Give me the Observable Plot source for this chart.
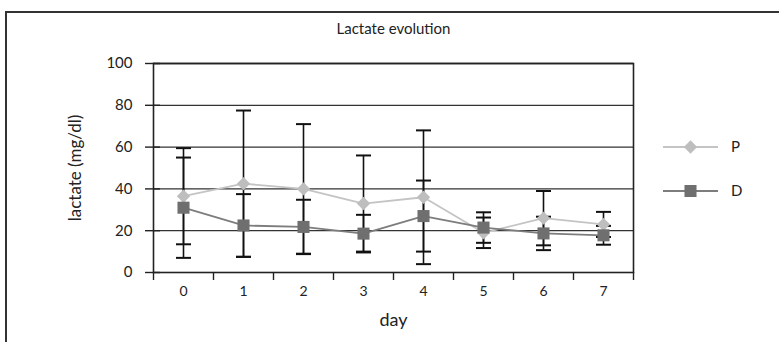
<!DOCTYPE html>
<html>
<head>
<meta charset="utf-8">
<script src="https://cdn.jsdelivr.net/npm/d3@7"></script>
<script src="https://cdn.jsdelivr.net/npm/@observablehq/plot@0.6"></script>
<style>
  html, body { margin: 0; padding: 0; background: #fff; }
  #wrap { position: relative; width: 779px; height: 342px; overflow: hidden; font-family: Lato, "Open Sans", sans-serif; }
  #box { position: absolute; left: 5px; top: 11px; width: 900px; height: 500px; border-top: 2px solid #333; border-left: 2px solid #333; }
  #chart { position: absolute; left: 0; top: 0; }
  #legend { position: absolute; left: 655px; top: 130px; }
</style>
</head>
<body>
<div id="wrap">
  <div id="box"></div>
  <div id="chart"></div>
  <div id="legend"></div>
</div>
<script>
const title = "Lactate evolution";
const xLabel = "day";
const yLabel = "lactate (mg/dl)";
const days = [0, 1, 2, 3, 4, 5, 6, 7];
const yTicks = [0, 20, 40, 60, 80, 100];
const seriesNames = ["P", "D"];
const pMean = [36.5, 42.5, 40, 33, 36, 19, 26, 23];
const pSd   = [23, 35, 31, 23, 32, 7.3, 13, 6];
const dMean = [31, 22.5, 21.8, 18.6, 27, 21.5, 18.7, 17.8];
const dSd   = [24, 15, 13, 9, 17, 7.3, 8, 4.5];

const colors = { P: "#bebebe", D: "#6f6f6f" };
const lineColors = { P: "#c4c4c4", D: "#7d7d7d" };

const rows = [];
days.forEach((d, i) => {
  rows.push({ day: d, series: "P", mean: pMean[i], lo: pMean[i] - pSd[i], hi: pMean[i] + pSd[i] });
  rows.push({ day: d, series: "D", mean: dMean[i], lo: dMean[i] - dSd[i], hi: dMean[i] + dSd[i] });
});
const pRows = rows.filter(r => r.series === "P");
const dRows = rows.filter(r => r.series === "D");

const capSymbol = {
  draw(ctx, size) {
    const w = 7.5;
    ctx.moveTo(-w, 0);
    ctx.lineTo(w, 0);
  }
};

const boundaries = d3.range(days[0] - 0.5, days[days.length - 1] + 1, 1);
const font = 'Lato, "Open Sans", sans-serif';

const chart = Plot.plot({
  width: 779,
  height: 342,
  marginLeft: 153,
  marginRight: 146,
  marginTop: 63,
  marginBottom: 70,
  style: { fontFamily: font, fontSize: "14px", color: "#222", background: "transparent" },
  x: { type: "linear", domain: [days[0] - 0.5, days[days.length - 1] + 0.5] },
  y: { domain: [0, 100] },
  marks: [
    Plot.ruleY(yTicks.filter(t => t > 0), { y: d => d, stroke: "#333", strokeWidth: 1.3 }),
    Plot.frame({ stroke: "#222", strokeWidth: 1.6 }),
    Plot.axisY({ ticks: yTicks, tickSize: 15, dx: 7, tickFormat: () => "", stroke: "#222", strokeWidth: 1.4, label: null }),
    Plot.axisY({ ticks: yTicks, tickSize: 0, tickPadding: 21, fontSize: 15, fill: "#222", label: null }),
    Plot.axisX({ ticks: boundaries, tickSize: 8, tickFormat: () => "", stroke: "#222", strokeWidth: 1.4, label: null }),
    Plot.axisX({ ticks: days, tickSize: 0, tickPadding: 14, fontSize: 14, fill: "#222", label: null }),
    Plot.text([xLabel], { frameAnchor: "bottom", dy: 53, fontSize: 18, fill: "#222" }),
    Plot.text([yLabel], { frameAnchor: "left", textAnchor: "middle", dx: -78, rotate: -90, fontSize: 17, fill: "#222" }),
    Plot.text([title], { frameAnchor: "top", dy: -40, fontSize: 15, fill: "#222" }),
    Plot.ruleX(rows, { x: "day", y1: "lo", y2: "hi", stroke: "#111", strokeWidth: 1.6 }),
    Plot.dot(rows, { x: "day", y: "lo", symbol: capSymbol, stroke: "#111", strokeWidth: 2, fill: "none" }),
    Plot.dot(rows, { x: "day", y: "hi", symbol: capSymbol, stroke: "#111", strokeWidth: 2, fill: "none" }),
    Plot.line(pRows, { x: "day", y: "mean", stroke: lineColors.P, strokeWidth: 1.8 }),
    Plot.line(dRows, { x: "day", y: "mean", stroke: lineColors.D, strokeWidth: 1.8 }),
    Plot.dot(pRows, { x: "day", y: "mean", symbol: "diamond2", r: 6, fill: colors.P, stroke: "none" }),
    Plot.dot(dRows, { x: "day", y: "mean", symbol: "square", r: 6.8, fill: colors.D, stroke: "none" })
  ]
});
document.getElementById("chart").appendChild(chart);

// Legend
const lg = d3.select("#legend").append("svg").attr("width", 110).attr("height", 80)
  .style("font-family", font);
seriesNames.forEach((name, i) => {
  const g = lg.append("g").attr("transform", `translate(0, ${17 + i * 44})`);
  g.append("line").attr("x1", 8).attr("x2", 63).attr("y1", 0).attr("y2", 0)
    .attr("stroke", lineColors[name]).attr("stroke-width", 1.8);
  const sym = name === "P" ? d3.symbolDiamond2 : d3.symbolSquare;
  const size = name === "P" ? 36 * Math.PI : 6.8 * 6.8 * Math.PI;
  g.append("path").attr("d", d3.symbol(sym, size)()).attr("transform", "translate(35.5,0)")
    .attr("fill", colors[name]);
  g.append("text").attr("x", 76).attr("y", 0).attr("dy", "0.35em")
    .attr("font-size", 15).attr("fill", "#222").text(name);
});
</script>
</body>
</html>
